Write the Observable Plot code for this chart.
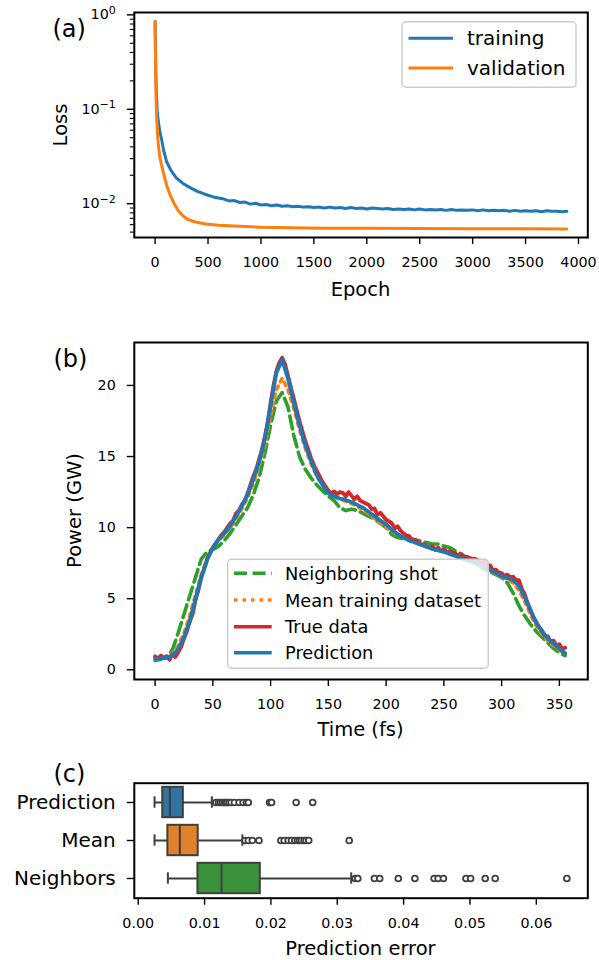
<!DOCTYPE html>
<html>
<head>
<meta charset="utf-8">
<script src="https://cdn.jsdelivr.net/npm/d3@7"></script>
<script src="https://cdn.jsdelivr.net/npm/@observablehq/plot@0.6"></script>
<style>
  html, body { margin: 0; padding: 0; background: #fff; }
  #wrap { position: relative; width: 599px; height: 960px; font-family: "DejaVu Sans", sans-serif; overflow: hidden; }
  #wrap > svg { position: absolute; left: 0; }
  #overlay { position: absolute; left: 0; top: 0; pointer-events: none; }
</style>
</head>
<body>
<div id="wrap"></div>
<script>
// ---------------- Panel (a): loss curves ----------------
const trainEpoch = [0,5,10,20,30,45,60,80,108,150,200,260,330,400,470,550,650,700,750,800,850,900,950,1000,1050,1100,1150,1200,1250,1300,1350,1400,1450,1500,1550,1600,1650,1700,1750,1800,1850,1900,1950,2000,2050,2100,2150,2200,2250,2300,2350,2400,2450,2500,2550,2600,2650,2700,2750,2800,2850,2900,2950,3000,3050,3100,3150,3200,3250,3300,3350,3400,3450,3500,3550,3600,3650,3700,3750,3800,3850,3890];
const trainLoss = [0.85,0.35,0.18,0.095,0.075,0.058,0.049,0.037,0.028,0.0225,0.0188,0.0165,0.0148,0.0135,0.0126,0.0118,0.0112,0.0107,0.0108,0.0103,0.0104,0.0099,0.0101,0.0097,0.0098,0.0095,0.0097,0.0094,0.0095,0.0093,0.0094,0.0092,0.0093,0.0091,0.0092,0.0090,0.0092,0.0090,0.0091,0.0089,0.0091,0.0089,0.0090,0.0088,0.0090,0.0089,0.0088,0.0089,0.0087,0.0088,0.0087,0.0088,0.0086,0.0088,0.0086,0.0087,0.0086,0.0087,0.0085,0.0087,0.0085,0.0086,0.0085,0.0086,0.0084,0.0086,0.0084,0.0085,0.0084,0.0085,0.0083,0.0085,0.0083,0.0084,0.0083,0.0084,0.0082,0.0084,0.0083,0.0083,0.0082,0.0083];
const valEpoch = [0,3,6,10,15,20,30,45,60,80,110,140,180,220,260,310,380,480,600,750,1000,1300,1600,2000,2500,3000,3500,3890];
const valLoss = [0.85,0.4,0.2,0.12,0.08,0.062,0.043,0.031,0.026,0.021,0.0155,0.0125,0.0100,0.0084,0.0075,0.0068,0.0064,0.0061,0.0059,0.0058,0.00562,0.00555,0.0055,0.00548,0.00545,0.00543,0.00542,0.0054];
const epochTicks = [0,500,1000,1500,2000,2500,3000,3500,4000];
const lossTicks = [0.01, 0.1, 1];
const lossMinor = [0.005,0.006,0.007,0.008,0.009,0.02,0.03,0.04,0.05,0.06,0.07,0.08,0.09,0.2,0.3,0.4,0.5,0.6,0.7,0.8,0.9];
const lossSeries = ["training", "validation"];

// ---------------- Panel (b): power profiles ----------------
const time5 = [0,5,10,15,20,25,30,35,40,45,50,55,60,65,70,75,80,85,90,95,100,105,110,115,120,125,130,135,140,145,150,155,160,165,170,175,180,185,190,195,200,205,210,215,220,225,230,235,240,245,250,255,260,265,270,275,280,285,290,295,300,305,310,315,320,325,330,335,340,345,350,355];
const neighborPower = [0.65,0.75,0.9,1.4,2.6,3.9,5.2,6.5,7.8,8.3,8.45,8.7,9.1,9.6,10.2,10.8,11.4,12.3,13.5,15.2,17.2,18.9,19.5,18.5,16.5,15.0,14.1,13.5,13.0,12.6,12.2,11.9,11.4,11.2,11.3,11.2,11.0,10.8,10.6,10.3,10.0,9.5,9.3,9.2,9.25,9.15,9.05,8.95,8.85,8.85,8.7,8.6,8.35,8.15,7.9,7.6,7.35,7.1,6.9,6.7,6.5,6.1,5.4,4.5,3.8,3.2,2.7,2.3,1.9,1.5,1.2,1.0];
const meanPower = [0.8,0.82,0.9,1.15,1.7,2.6,3.8,5.3,6.7,7.8,8.6,9.1,9.5,10.0,10.6,11.3,12.1,13.1,14.3,15.8,17.9,19.7,20.5,19.7,18.4,16.9,15.6,14.5,13.6,13.0,12.5,12.2,12.0,11.85,11.7,11.5,11.25,10.95,10.65,10.35,10.05,9.75,9.5,9.3,9.1,8.95,8.8,8.65,8.5,8.4,8.3,8.15,8.0,7.85,7.7,7.55,7.4,7.25,7.0,6.75,6.55,6.35,6.1,5.6,4.8,3.9,3.1,2.5,2.05,1.7,1.4,1.1];
const predPower = [0.78,0.8,0.85,1.0,1.45,2.3,3.4,5.0,6.5,7.7,8.6,9.15,9.6,10.1,10.8,11.5,12.3,13.4,14.6,16.2,18.6,20.9,21.8,20.5,18.8,17.2,15.8,14.7,13.7,13.0,12.4,12.2,12.05,11.95,11.8,11.6,11.4,11.1,10.8,10.5,10.25,9.85,9.55,9.3,9.1,8.95,8.8,8.65,8.5,8.4,8.3,8.15,8.0,7.85,7.7,7.6,7.45,7.3,7.05,6.8,6.6,6.45,6.3,5.9,5.1,4.2,3.3,2.7,2.2,1.85,1.5,1.15];
const timeTrue = [0,2.5,5,7.5,10,12.5,15,17.5,20,22.5,25,27.5,30,32.5,35,37.5,40,42.5,45,47.5,50,52.5,55,57.5,60,62.5,65,67.5,70,72.5,75,77.5,80,82.5,85,87.5,90,92.5,95,97.5,100,102.5,105,107.5,110,112.5,115,117.5,120,122.5,125,127.5,130,132.5,135,137.5,140,142.5,145,147.5,150,152.5,155,157.5,160,162.5,165,167.5,170,172.5,175,177.5,180,182.5,185,187.5,190,192.5,195,197.5,200,202.5,205,207.5,210,212.5,215,217.5,220,222.5,225,227.5,230,232.5,235,237.5,240,242.5,245,247.5,250,252.5,255,257.5,260,262.5,265,267.5,270,272.5,275,277.5,280,282.5,285,287.5,290,292.5,295,297.5,300,302.5,305,307.5,310,312.5,315,317.5,320,322.5,325,327.5,330,332.5,335,337.5,340,342.5,345,347.5,350,352.5,355];
const truePower = [0.95,0.8,1.0,0.85,0.95,0.7,1.1,0.9,1.25,1.6,2.2,2.7,3.4,3.9,4.9,5.6,6.5,7.1,7.8,8.2,8.6,8.9,9.2,9.5,9.7,10.0,10.3,10.5,11.0,11.2,11.6,11.9,12.4,13.0,13.6,14.1,14.8,15.5,16.4,17.4,18.8,20.0,21.0,21.6,21.95,21.5,20.7,19.9,19.1,18.3,17.5,16.8,16.1,15.5,14.9,14.4,14.0,13.6,13.2,12.9,12.6,12.4,12.55,12.35,12.5,12.45,12.2,12.5,12.25,12.0,12.2,11.9,11.8,11.7,11.6,11.3,11.35,10.9,11.05,10.8,10.55,10.45,10.3,9.95,10.1,9.8,9.6,9.45,9.4,9.1,9.15,9.0,8.8,8.85,8.7,8.6,8.7,8.45,8.6,8.35,8.5,8.3,8.35,8.25,8.2,8.0,8.15,7.9,7.95,7.85,7.8,7.8,7.7,7.5,7.65,7.3,7.35,7.0,7.05,6.85,6.8,6.6,6.7,6.5,6.55,6.3,6.3,5.7,5.3,4.7,4.2,3.7,3.35,3.0,2.75,2.4,2.35,2.0,2.05,1.7,1.8,1.45,1.55];
const timeTicks = [0,50,100,150,200,250,300,350];
const powerTicks = [0,5,10,15,20];
const powerSeries = ["Neighboring shot", "Mean training dataset", "True data", "Prediction"];

// ---------------- Panel (c): prediction error boxplots ----------------
const errCategories = ["Prediction", "Mean", "Neighbors"];
const errWhiskerLow = [0.00246, 0.00246, 0.00447];
const errQ1 = [0.0037, 0.00447, 0.0090];
const errMedian = [0.00478, 0.00627, 0.01256];
const errQ3 = [0.0068, 0.00904, 0.0184];
const errWhiskerHigh = [0.0111, 0.0157, 0.0321];
const outPrediction = [0.0117,0.0121,0.0124,0.0127,0.0130,0.0132,0.0134,0.0137,0.0140,0.0145,0.0152,0.0158,0.0163,0.0166,0.0198,0.0201,0.0238,0.0263];
const outMean = [0.0161,0.0166,0.0172,0.0182,0.0215,0.0220,0.0226,0.0231,0.0236,0.0240,0.0243,0.0246,0.0250,0.0253,0.0257,0.0318];
const outNeighbors = [0.0327,0.0331,0.0356,0.0364,0.0392,0.0417,0.0446,0.0452,0.0460,0.0494,0.0501,0.0523,0.0538,0.0646];
const errTicks = [0, 0.01, 0.02, 0.03, 0.04, 0.05, 0.06];

// ---------------- styling ----------------
const C = {blue: "#1f77b4", orange: "#ff7f0e", green: "#2ca02c", red: "#d62728"};
const boxFill = ["#3274a1", "#e1812c", "#3a923a"];
const boxEdge = "#3f3f3f";
const FONT = "DejaVu Sans, sans-serif";
const TICKFS = 14.3;
const W = 599;
const baseStyle = {fontFamily: FONT, fontSize: TICKFS + "px", color: "black", background: "transparent", overflow: "visible"};
const axisOpts = {tickSize: 7, strokeWidth: 1.4, stroke: "black", fill: "black", label: null, fontSize: TICKFS};

const wrap = document.getElementById("wrap");

// ---- (a)
const trainRows = trainEpoch.map((e, i) => ({epoch: e, loss: trainLoss[i], s: lossSeries[0]}));
const valRows = valEpoch.map((e, i) => ({epoch: e, loss: valLoss[i], s: lossSeries[1]}));
const plotA = Plot.plot({
  width: W, height: 310,
  marginLeft: 133.8, marginRight: W - 587.3, marginTop: 12, marginBottom: 310 - 237,
  style: baseStyle,
  x: {domain: [-196.5, 4088]},
  y: {type: "log", domain: [Math.pow(10, -2.358), Math.pow(10, 0.025)]},
  marks: [
    Plot.line(trainRows, {x: "epoch", y: "loss", stroke: C.blue, strokeWidth: 3}),
    Plot.line(valRows, {x: "epoch", y: "loss", stroke: C.orange, strokeWidth: 3}),
    Plot.axisX(epochTicks, {...axisOpts, tickPadding: 12.5, tickFormat: d => String(d)}),
    Plot.axisY(lossTicks, {...axisOpts, tickPadding: 11.5, tickFormat: d => "10^" + Math.round(Math.log10(d))}),
    Plot.axisY(lossMinor, {...axisOpts, tickSize: 4, strokeWidth: 1.1, tickFormat: () => ""}),
    Plot.frame({stroke: "black", strokeWidth: 2})
  ]
});
// turn "10^k" tick labels into a base with a raised exponent (as matplotlib mathtext)
plotA.querySelectorAll("text").forEach(t => {
  const m = /^10\^(-?\d+)$/.exec(t.textContent);
  if (!m) return;
  const exp = m[1].replace("-", "\u2212");
  t.textContent = "";
  const base = document.createElementNS("http://www.w3.org/2000/svg", "tspan");
  base.textContent = "10";
  const sup = document.createElementNS("http://www.w3.org/2000/svg", "tspan");
  sup.setAttribute("dy", "-0.5em");
  sup.setAttribute("style", "font-size: 11px");
  sup.textContent = exp;
  t.appendChild(base); t.appendChild(sup);
});
plotA.style.top = "0px";
wrap.appendChild(plotA);

// ---- (b)
const mk = (ts, vs, name) => ts.map((t, i) => ({t, p: vs[i], s: name}));
const plotB = Plot.plot({
  width: W, height: 430,
  marginLeft: 133.8, marginRight: W - 587.3, marginTop: 22, marginBottom: 430 - 359,
  style: baseStyle,
  x: {domain: [-18.0, 374.6]},
  y: {domain: [-0.68, 23.02]},
  marks: [
    Plot.line(mk(time5, neighborPower, powerSeries[0]), {x: "t", y: "p", stroke: C.green, strokeWidth: 3.6, strokeDasharray: "13,5.5"}),
    Plot.line(mk(time5, meanPower, powerSeries[1]), {x: "t", y: "p", stroke: C.orange, strokeWidth: 3.6, strokeDasharray: "3.5,5"}),
    Plot.line(mk(timeTrue, truePower, powerSeries[2]), {x: "t", y: "p", stroke: C.red, strokeWidth: 3.8}),
    Plot.line(mk(time5, predPower, powerSeries[3]), {x: "t", y: "p", stroke: C.blue, strokeWidth: 3.8}),
    Plot.axisX(timeTicks, {...axisOpts, tickPadding: 12.5, tickFormat: d => String(d)}),
    Plot.axisY(powerTicks, {...axisOpts, tickPadding: 11.5, tickFormat: d => String(d)}),
    Plot.frame({stroke: "black", strokeWidth: 2})
  ]
});
plotB.style.top = "320px";
wrap.appendChild(plotB);

// ---- (c)
const boxRows = errCategories.map((c, i) => ({c, lo: errWhiskerLow[i], q1: errQ1[i], med: errMedian[i], q3: errQ3[i], hi: errWhiskerHigh[i], fill: boxFill[i]}));
const outRows = [
  ...outPrediction.map(v => ({c: errCategories[0], v})),
  ...outMean.map(v => ({c: errCategories[1], v})),
  ...outNeighbors.map(v => ({c: errCategories[2], v}))
];
const plotC = Plot.plot({
  width: W, height: 210,
  marginLeft: 133.8, marginRight: W - 587.3, marginTop: 32.7, marginBottom: 210 - 147.7,
  style: baseStyle,
  x: {domain: [-0.00059, 0.06776]},
  y: {type: "band", domain: errCategories, padding: 0},
  marks: [
    Plot.ruleY(boxRows, {y: "c", x1: "lo", x2: "hi", stroke: boxEdge, strokeWidth: 2}),
    Plot.tickX(boxRows, {y: "c", x: "lo", stroke: boxEdge, strokeWidth: 2, insetTop: 13.3, insetBottom: 13.3}),
    Plot.tickX(boxRows, {y: "c", x: "hi", stroke: boxEdge, strokeWidth: 2, insetTop: 13.3, insetBottom: 13.3}),
    Plot.barX(boxRows, {y: "c", x1: "q1", x2: "q3", fill: "fill", stroke: boxEdge, strokeWidth: 2, insetTop: 3.8, insetBottom: 3.8}),
    Plot.tickX(boxRows, {y: "c", x: "med", stroke: boxEdge, strokeWidth: 2, insetTop: 3.8, insetBottom: 3.8}),
    Plot.dot(outRows, {y: "c", x: "v", r: 2.9, stroke: boxEdge, strokeWidth: 1.8, fill: "white"}),
    Plot.axisX(errTicks, {...axisOpts, tickPadding: 12.5, tickFormat: d => d.toFixed(2)}),
    Plot.axisY(errCategories, {...axisOpts, tickPadding: 11.5, fontSize: 20}),
    Plot.frame({stroke: "black", strokeWidth: 2})
  ]
});
plotC.style.top = "750px";
wrap.appendChild(plotC);

// ---- overlay: panel letters, axis titles, legends
const NS = "http://www.w3.org/2000/svg";
const ov = document.createElementNS(NS, "svg");
ov.setAttribute("id", "overlay");
ov.setAttribute("width", W); ov.setAttribute("height", 960);
ov.setAttribute("font-family", FONT);
wrap.appendChild(ov);
function el(tag, attrs, text) {
  const e = document.createElementNS(NS, tag);
  for (const k in attrs) e.setAttribute(k, attrs[k]);
  if (text != null) e.textContent = text;
  ov.appendChild(e);
  return e;
}
// panel letters
el("text", {x: 52.5, y: 36.8, "font-size": 24, fill: "black"}, "(a)");
el("text", {x: 53.5, y: 366.8, "font-size": 24, fill: "black"}, "(b)");
el("text", {x: 53.5, y: 781.5, "font-size": 24, fill: "black"}, "(c)");
// axis titles
el("text", {x: 360.5, y: 296, "font-size": 19.5, "text-anchor": "middle", fill: "black"}, "Epoch");
el("text", {x: 0, y: 0, "font-size": 19.5, "text-anchor": "middle", fill: "black", transform: "translate(67.3,125) rotate(-90)"}, "Loss");
el("text", {x: 360.5, y: 736, "font-size": 19.5, "text-anchor": "middle", fill: "black"}, "Time (fs)");
el("text", {x: 0, y: 0, "font-size": 19.5, "text-anchor": "middle", fill: "black", transform: "translate(81.3,510.5) rotate(-90)"}, "Power (GW)");
el("text", {x: 360.5, y: 955, "font-size": 19.5, "text-anchor": "middle", fill: "black"}, "Prediction error");

// legend (a)
el("rect", {x: 402, y: 21.7, width: 174, height: 65.6, rx: 4, fill: "white", "fill-opacity": 0.8, stroke: "#cccccc", "stroke-width": 1.4});
const legA = [{name: lossSeries[0], color: C.blue, y: 38.3}, {name: lossSeries[1], color: C.orange, y: 68}];
for (const d of legA) {
  el("line", {x1: 408.5, x2: 453, y1: d.y, y2: d.y, stroke: d.color, "stroke-width": 3});
  el("text", {x: 467, y: d.y + 7, "font-size": 20, fill: "black"}, d.name);
}
// legend (b)
el("rect", {x: 227.7, y: 559.3, width: 260.6, height: 109, rx: 4, fill: "white", "fill-opacity": 0.8, stroke: "#cccccc", "stroke-width": 1.4});
const legB = [
  {name: powerSeries[0], color: C.green, dash: "13,5.5", y: 573.3},
  {name: powerSeries[1], color: C.orange, dash: "3.5,5", y: 600},
  {name: powerSeries[2], color: C.red, dash: null, y: 626.7},
  {name: powerSeries[3], color: C.blue, dash: null, y: 652.7}
];
for (const d of legB) {
  const a = {x1: 234, x2: 271.7, y1: d.y, y2: d.y, stroke: d.color, "stroke-width": 3.6};
  if (d.dash) a["stroke-dasharray"] = d.dash;
  el("line", a);
  el("text", {x: 285, y: d.y + 6.6, "font-size": 17.8, fill: "black"}, d.name);
}
</script>
</body>
</html>
